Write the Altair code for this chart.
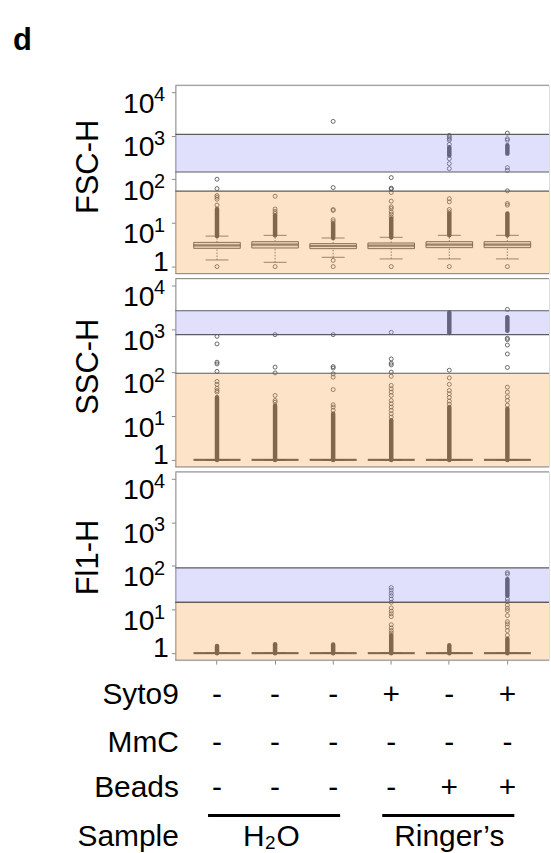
import altair as alt
import pandas as pd

# ---------------- data ----------------
lanes = ["L1", "L2", "L3", "L4", "L5", "L6"]
syto9 = ["-", "-", "-", "+", "-", "+"]
mmc = ["-", "-", "-", "-", "-", "-"]
beads = ["-", "-", "-", "-", "+", "+"]
row_labels = ["Syto9", "MmC", "Beads", "Sample"]
group_start = ["L1", "L4"]
group_end = ["L3", "L6"]
h2o_parts = ["H", "2", "O"]
ringer_label = "Ringer\u2019s"

panel_titles = ["FSC-H", "SSC-H", "Fl1-H"]
tick_values = [1, 10, 100, 1000, 10000]
tick_bases = ["1", "10", "10", "10", "10"]
tick_exponents = ["", "1", "2", "3", "4"]

# FSC-H
fsc_q1 = [2.62, 2.67, 2.58, 2.58, 2.72, 2.72]
fsc_med = [3.07, 3.18, 2.97, 3.02, 3.18, 3.18]
fsc_q3 = [3.59, 3.73, 3.36, 3.48, 3.73, 3.73]
fsc_wlo = [1.42, 1.25, 1.63, 1.50, 1.50, 1.50]
fsc_whi = [5.0, 5.2, 4.53, 4.68, 5.2, 5.2]
fsc_dense_lane = ["L1", "L2", "L3", "L4", "L5", "L6", "L5", "L6"]
fsc_dense_lo = [5.0, 5.2, 4.53, 4.68, 5.2, 5.2, 355, 390]
fsc_dense_hi = [21, 15, 9.8, 12.7, 16.5, 16.5, 550, 605]
fsc_outliers = {
    "L1": [1.0, 25.7, 35, 39, 42.6, 61.6, 101],
    "L2": [1.0, 16.6, 18.4, 20.9, 41],
    "L3": [1.0, 1.39, 10.7, 11.9, 19.4, 20.4, 65, 2140],
    "L4": [1.0, 13.9, 16, 18, 21.5, 23.5, 31.7, 50, 60, 63, 110],
    "L5": [1.0, 18, 20.4, 30.6, 36, 177, 230, 299, 635, 790, 855, 935, 1020],
    "L6": [1.0, 25.7, 28, 54.6, 162, 186, 790, 855, 1150],
}
fsc_gate_blue = [148, 1075]
fsc_gate_orange = 54

# SSC-H
ssc_q1 = [1, 1, 1, 1, 1, 1]
ssc_med = [1, 1, 1, 1, 1, 1]
ssc_q3 = [1, 1, 1, 1, 1, 1]
ssc_wlo = [1, 1, 1, 1, 1, 1]
ssc_whi = [1, 1, 1, 1, 1, 1]
ssc_dense_lane = ["L1", "L2", "L3", "L4", "L5", "L6", "L5", "L6"]
ssc_dense_lo = [1, 1, 1, 1, 1, 1, 813, 920]
ssc_dense_hi = [27.5, 17.8, 11.4, 8.1, 16.3, 14.9, 2400, 1860]
ssc_outliers = {
    "L1": [35.8, 39, 44, 53.7, 63, 107, 159, 174, 457, 683],
    "L2": [21, 23, 30, 99, 134, 747],
    "L3": [13.7, 16.3, 18.4, 41, 79, 94, 128, 138, 747],
    "L4": [9.6, 11.4, 13.7, 16.3, 19.4, 23, 30, 36, 42.6, 51, 83, 103, 151, 165, 207, 843],
    "L5": [19, 22.3, 27, 32.8, 39, 54, 76, 114],
    "L6": [18, 23, 28, 35.8, 46.6, 132, 269, 431, 574, 617, 2830],
}
ssc_gate_blue = [747, 2640]
ssc_gate_orange = 97

# Fl1-H
fl1_q1 = [1, 1, 1, 1, 1, 1]
fl1_med = [1, 1, 1, 1, 1, 1]
fl1_q3 = [1, 1, 1, 1, 1, 1]
fl1_wlo = [1, 1, 1, 1, 1, 1]
fl1_whi = [1, 1, 1, 1, 1, 1]
fl1_dense_lane = ["L1", "L2", "L3", "L4", "L5", "L6", "L6"]
fl1_dense_lo = [1, 1, 1, 1, 1, 1, 20.8]
fl1_dense_hi = [1.47, 1.6, 1.58, 2.57, 1.53, 2.15, 50]
fl1_outliers = {
    "L4": [2.9, 3.3, 3.8, 4.5, 6.9, 8.0, 9.2, 10.9, 14.7, 17.5, 20.8, 23.9, 28, 32.1],
    "L6": [2.57, 3.3, 4.0, 4.7, 5.3, 7.3, 9.5, 10.7, 12.7, 15.2, 17.5, 65, 70.5],
}
fl1_gate_blue = [14.7, 91]
fl1_gate_orange = 14.7

# ---------------- style ----------------
FONT = "Liberation Sans"
W, H = 375, 189
YMIN, YMAX = 0.692, 14450
UNDER = "#474747"
AXIS_GREY = "#8c8c8c"

xscale = alt.Scale(domain=lanes, paddingInner=0.198, paddingOuter=0.316)
yscale = alt.Scale(type="log", domain=[YMIN, YMAX], nice=False)
yaxis = alt.Axis(values=tick_values, labels=False, ticks=True, tickSize=4,
                 tickColor=AXIS_GREY, domainColor=AXIS_GREY, grid=False, title=None)
xaxis_bottom = alt.Axis(labels=False, ticks=True, tickSize=4, tickColor=AXIS_GREY,
                        domain=False, grid=False, title=None)

one_row = pd.DataFrame({"a": [0]})


def X(axis, field="lane"):
    return alt.X(f"{field}:N", scale=xscale, axis=axis, title=None)


def Y(field):
    return alt.Y(f"{field}:Q", scale=yscale, axis=yaxis, title=None)


def make_panel(title, title_y, q1, med, q3, wlo, whi, d_lane, d_lo, d_hi,
               outliers, blue, orange_top, bottom=False, extra=()):
    xa = xaxis_bottom if bottom else None
    box = pd.DataFrame({"lane": lanes, "q1": q1, "med": med, "q3": q3,
                        "wlo": wlo, "whi": whi})
    base = alt.Chart(box)
    whisk_up = base.mark_rule(color="#6a6a6a", strokeDash=[1.5, 1.5], strokeWidth=1).encode(
        x=X(xa), y=Y("q3"), y2="whi")
    whisk_dn = base.mark_rule(color="#6a6a6a", strokeDash=[1.5, 1.5], strokeWidth=1).encode(
        x=X(xa), y=Y("wlo"), y2="q1")
    cap_hi = base.mark_tick(color="#555555", size=23, thickness=1.2).encode(x=X(xa), y=Y("whi"))
    cap_lo = base.mark_tick(color="#555555", size=23, thickness=1.2).encode(x=X(xa), y=Y("wlo"))
    boxes = base.mark_bar(fill="#EAEAEA", stroke="#555555", strokeWidth=1).encode(
        x=X(xa), y=Y("q1"), y2="q3")
    medians = base.mark_tick(color="#3a3a3a", size=47, thickness=2.2).encode(x=X(xa), y=Y("med"))

    dense_df = pd.DataFrame({"lane": d_lane, "lo": d_lo, "hi": d_hi})
    dense = alt.Chart(dense_df).mark_rule(color=UNDER, strokeWidth=4.5, strokeCap="round").encode(
        x=X(xa), y=Y("lo"), y2="hi")

    out_df = pd.DataFrame([(k, v) for k, vs in outliers.items() for v in vs], columns=["lane", "v"])
    points = alt.Chart(out_df).mark_point(shape="circle", filled=False, size=16, strokeWidth=0.8,
                                          color=UNDER, opacity=1).encode(x=X(xa), y=Y("v"))

    bands_df = pd.DataFrame({"gate": ["orange", "blue"], "lo": [YMIN, blue[0]],
                             "hi": [orange_top, blue[1]]})
    bands = alt.Chart(bands_df).mark_rect(opacity=0.33).encode(
        x=alt.value(0), x2=alt.value("width"), y=Y("lo"), y2="hi",
        color=alt.Color("gate:N", scale=alt.Scale(domain=["orange", "blue"],
                                                  range=["#F9AA58", "#A1A1F6"]), legend=None))
    edges_df = pd.DataFrame({"e": [orange_top, blue[0], blue[1]]})
    edges = alt.Chart(edges_df).mark_rule(color="#5c5c5c", strokeWidth=1.2).encode(
        x=alt.value(0), x2=alt.value("width"), y=Y("e"))

    frame_top = alt.Chart(one_row).mark_rule(color=AXIS_GREY, strokeWidth=1).encode(
        x=alt.value(0), x2=alt.value("width"), y=alt.value(0))
    frame_bot = alt.Chart(one_row).mark_rule(color=AXIS_GREY, strokeWidth=1).encode(
        x=alt.value(0), x2=alt.value("width"), y=alt.value("height"))

    tl = pd.DataFrame({"v": tick_values[1:], "b": tick_bases[1:], "e": tick_exponents[1:]})
    tens = alt.Chart(tl).mark_text(align="right", baseline="alphabetic", dy=20.5, fontSize=28.5,
                                   font=FONT, color="black").encode(
        x=alt.value(-21), y=Y("v"), text="b:N")
    sups = alt.Chart(tl).mark_text(align="left", baseline="alphabetic", dy=9, fontSize=20,
                                   font=FONT, color="black").encode(
        x=alt.value(-21.5), y=Y("v"), text="e:N")
    one_df = pd.DataFrame({"v": tick_values[:1], "b": tick_bases[:1]})
    one = alt.Chart(one_df).mark_text(align="right", baseline="alphabetic", dy=4, fontSize=28.5,
                                      font=FONT, color="black").encode(
        x=alt.value(-6.5), y=Y("v"), text="b:N")
    ttl = alt.Chart(pd.DataFrame({"t": [title]})).mark_text(
        angle=270, align="center", baseline="middle", fontSize=31, font=FONT,
        color="black").encode(x=alt.value(-87), y=alt.value(title_y), text="t:N")

    layers = [whisk_up, whisk_dn, cap_hi, cap_lo, boxes, medians, dense, points,
              bands, edges, frame_top, frame_bot, tens, sups, one, ttl] + list(extra)
    return alt.layer(*layers).properties(width=W, height=H)


# panel letter and invisible page anchor (fixes the page origin)
letter = alt.Chart(pd.DataFrame({"t": ["d"]})).mark_text(
    align="left", baseline="alphabetic", fontSize=31, fontWeight="bold", font=FONT,
    color="black").encode(x=alt.value(-163), y=alt.value(-35), text="t:N")
anchor = alt.Chart(one_row).mark_rule(strokeOpacity=0, opacity=0).encode(
    x=alt.value(-175), x2=alt.value(-174), y=alt.value(-83))

# condition table below the bottom panel
BASE_Y = 375.5
table = pd.DataFrame({"lane": lanes, "syto9": syto9, "mmc": mmc, "beads": beads})
extra3 = []
for col, yv in [("syto9", 233), ("mmc", 281), ("beads", 326)]:
    extra3.append(alt.Chart(table).mark_text(align="center", baseline="alphabetic", fontSize=30,
                                             font=FONT, color="black").encode(
        x=X(xaxis_bottom), y=alt.value(yv), text=f"{col}:N"))
for lab, yv in zip(row_labels, [233, 281, 326, BASE_Y]):
    extra3.append(alt.Chart(pd.DataFrame({"t": [lab]})).mark_text(
        align="right", baseline="alphabetic", fontSize=30, font=FONT, color="black").encode(
        x=alt.value(3.5), y=alt.value(yv), text="t:N"))
grp = pd.DataFrame({"start": group_start, "end": group_end})
extra3.append(alt.Chart(grp).mark_rule(color="black", strokeWidth=3, xOffset=-9, x2Offset=7).encode(
    x=X(xaxis_bottom, "start"), x2="end:N", y=alt.value(345)))
for part, dx, al, fs, yv in [(h2o_parts[0], -10.5, "right", 30, BASE_Y),
                             (h2o_parts[1], -10, "left", 19, 378.2),
                             (h2o_parts[2], 1.5, "left", 30, BASE_Y)]:
    extra3.append(alt.Chart(pd.DataFrame({"lane": ["L2"], "t": [part]})).mark_text(
        align=al, baseline="alphabetic", fontSize=fs, font=FONT, color="black", dx=dx).encode(
        x=X(xaxis_bottom), y=alt.value(yv), text="t:N"))
extra3.append(alt.Chart(pd.DataFrame({"lane": ["L5"], "t": [ringer_label]})).mark_text(
    align="center", baseline="alphabetic", fontSize=30, font=FONT, color="black").encode(
    x=X(xaxis_bottom), y=alt.value(BASE_Y), text="t:N"))

p1 = make_panel(panel_titles[0], 82, fsc_q1, fsc_med, fsc_q3, fsc_wlo, fsc_whi,
                fsc_dense_lane, fsc_dense_lo, fsc_dense_hi, fsc_outliers,
                fsc_gate_blue, fsc_gate_orange, extra=[letter, anchor])
p2 = make_panel(panel_titles[1], 88.5, ssc_q1, ssc_med, ssc_q3, ssc_wlo, ssc_whi,
                ssc_dense_lane, ssc_dense_lo, ssc_dense_hi, ssc_outliers,
                ssc_gate_blue, ssc_gate_orange)
p3 = make_panel(panel_titles[2], 86, fl1_q1, fl1_med, fl1_q3, fl1_wlo, fl1_whi,
                fl1_dense_lane, fl1_dense_lo, fl1_dense_hi, fl1_outliers,
                fl1_gate_blue, fl1_gate_orange, bottom=True, extra=extra3)

chart = alt.vconcat(p1, p2, p3, spacing=5, bounds="flush").properties(
    padding=0,
).configure_view(stroke=None).configure(font=FONT)

chart.save("out.html", embed_options={"renderer": "svg", "actions": False})
